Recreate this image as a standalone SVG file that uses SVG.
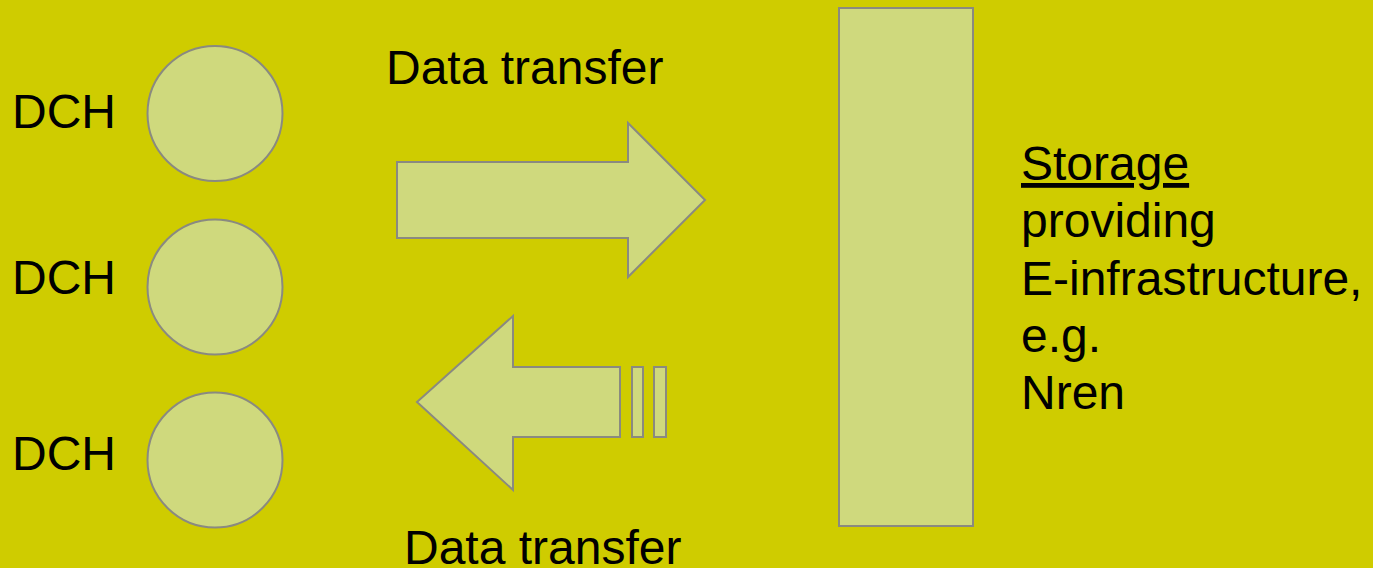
<svg xmlns="http://www.w3.org/2000/svg" width="1373" height="568" viewBox="0 0 1373 568">
<style>
.shape{fill:#CFD97D;stroke:#8A8A80;stroke-width:2}
text{font-family:"Liberation Sans",Arial,sans-serif;font-size:48px;fill:#000}
</style>
<rect width="1373" height="568" fill="#CFCC00"/>
<g id="dch1"><circle class="shape" cx="215" cy="113.5" r="67.5"/><text x="12" y="128">DCH</text></g>
<g id="dch2"><circle class="shape" cx="215" cy="287" r="67.5"/><text x="12" y="294">DCH</text></g>
<g id="dch3"><circle class="shape" cx="215" cy="460" r="67.5"/><text x="12" y="470">DCH</text></g>
<g id="storage"><rect class="shape" x="839" y="8" width="134" height="518"/></g>
<g id="storage-label">
<text x="1021" y="180" text-decoration="underline">Storage</text>
<text x="1021" y="237">providing</text>
<text x="1021" y="295">E-infrastructure,</text>
<text x="1021" y="352">e.g.</text>
<text x="1021" y="409">Nren</text>
</g>
<g id="connectors">
<g id="arrow-right">
<polygon class="shape" points="397,162 628,162 628,123 705,200 628,277 628,238 397,238"/>
<text x="386" y="84">Data transfer</text>
</g>
<g id="arrow-left">
<polygon class="shape" points="620,367 513,367 513,316 417,402 513,490 513,437 620,437"/>
<rect class="shape" x="632" y="367" width="11" height="70"/>
<rect class="shape" x="654" y="367" width="12" height="70"/>
<text x="404" y="564">Data transfer</text>
</g>
</g>
</svg>
